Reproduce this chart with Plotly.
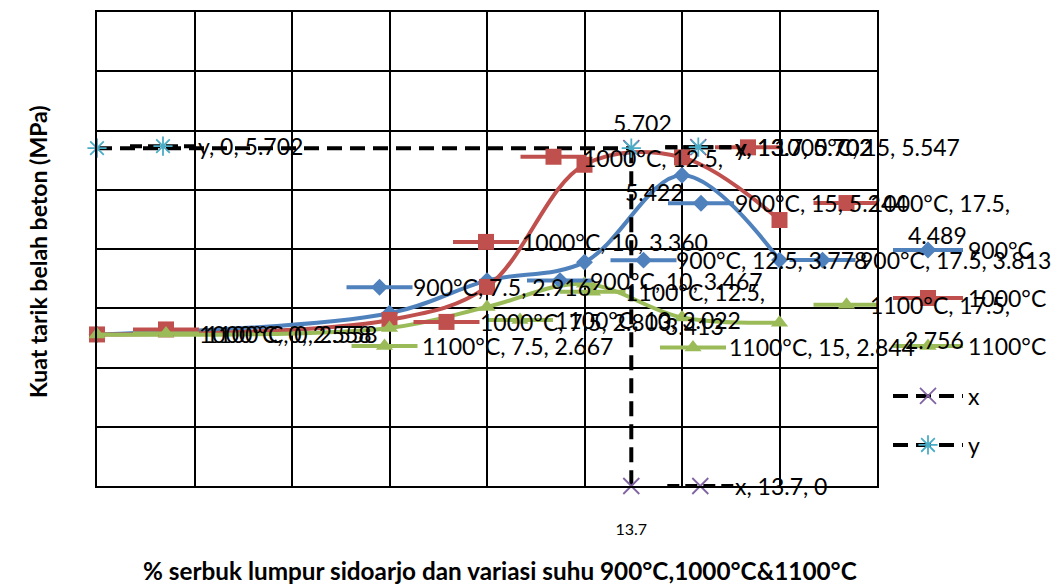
import plotly.graph_objects as go

# ---------------- data ----------------
pct = [0, 7.5, 10, 12.5, 15, 17.5]
s900 = [2.558, 2.916, 3.467, 3.778, 5.244, 3.813]
s1000 = [2.558, 2.803, 3.360, 5.422, 5.547, 4.489]
s1100 = [2.558, 2.667, 3.022, 3.413, 2.844, 2.756]
series_names = ["900°C", "1000°C", "1100°C"]
x_line_x = [13.7, 13.7]
x_line_y = [5.702, 0]
y_line_x = [0, 13.7]
y_line_y = [5.702, 5.702]
xtick_vals = [13.7]
xtick_text = ["13.7"]

# ---------------- styles ----------------
FONT = "Lato"
LABEL_SIZE = 23
W, H = 1052, 586
ML, MR, MT, MB = 97, 175, 12, 100
XR = [0, 20]
YR = [0, 8]
PX = (W - ML - MR) / (XR[1] - XR[0])
PY = (H - MT - MB) / (YR[1] - YR[0])

styles = {
    "900": dict(color="#4F81BD", symbol="diamond", size=13, dash="solid", lw=4),
    "1000": dict(color="#C0504D", symbol="square", size=16, dash="solid", lw=4),
    "1100": dict(color="#9BBB59", symbol="triangle-up", size=15, dash="solid", lw=4),
    "x": dict(color="#8064A2", symbol="x-thin", size=16, dash="dash", lw=4, linecolor="black"),
    "y": dict(color="#4BACC6", symbol="asterisk", size=16, dash="dash", lw=4, linecolor="black"),
}
data = {
    "900": (pct, s900, series_names[0]),
    "1000": (pct, s1000, series_names[1]),
    "1100": (pct, s1100, series_names[2]),
    "x": (x_line_x, x_line_y, "x"),
    "y": (y_line_x, y_line_y, "y"),
}


def marker_of(st, size):
    thin = st["symbol"] in ("x-thin", "asterisk")
    return dict(symbol=st["symbol"] + ("-open" if thin else ""), size=size,
                color=st["color"], opacity=1,
                line=dict(color=st["color"], width=1.8 if thin else 0))


fig = go.Figure()
legend_pos = {"900": 250, "1000": 298, "1100": 346, "x": 396, "y": 445}
legend_ids = ["legend", "legend2", "legend3", "legend4", "legend5"]
for k, lg in zip(["900", "1000", "1100", "x", "y"], legend_ids):
    xs, ys, nm = data[k]
    st = styles[k]
    fig.add_trace(go.Scatter(
        x=xs, y=ys, name=nm, mode="lines+markers", legend=lg,
        line=dict(color=st.get("linecolor", st["color"]), width=st["lw"],
                  dash="solid" if st["dash"] == "solid" else "15px,8px",
                  shape="spline" if k in ("900", "1000", "1100") else "linear"),
        marker=marker_of(st, st["size"]),
        cliponaxis=False, hoverinfo="skip",
    ))

# ---------------- data labels (legend key + text) ----------------
# (series, index, key_dx, key_dy, text_dx, text_dy, anchor, text)   offsets in pixels
labels = [
    ("1000", 0, 36, -5, 100, 0, "left", "1000°C, 0, 2.558"),
    ("1100", 0, 36, -1, 106, 0, "left", "1100°C, 0, 2.558"),
    ("900", 1, -43, -26, 21, -26, "left", "900°C, 7.5, 2.916"),
    ("900", 2, 40, 0, 101, 0, "left", "900°C, 10, 3.467"),
    ("900", 3, 26, -2, 89, -2, "left", "900°C, 12.5, 3.778"),
    ("900", 4, -14, 28, 51, 28, "left", "900°C, 15, 5.244"),
    ("900", 5, 10, 0, 78, 0, "left", "900°C, 17.5, 3.813"),
    ("1000", 1, 24, 2, 88, 2, "left", "1000°C, 7.5, 2.803"),
    ("1000", 2, -34, -45, 33, -45, "left", "1000°C, 10, 3.360"),
    ("1000", 3, -64, -8, 68, -7, "center", "1000°C, 12.5,"),
    ("1000", 3, None, 0, 70, 27, "center", "5.422"),
    ("1000", 4, 33, -10, 90, -10, "left", "1000°C, 15, 5.547"),
    ("1000", 5, 34, -17, 160, -17, "center", "1000°C, 17.5,"),
    ("1000", 5, None, 0, 158, 15, "center", "4.489"),
    ("1100", 1, -38, 18, 30, 18, "left", "1100°C, 7.5, 2.667"),
    ("1100", 2, 0, 13, 66, 13, "left", "1100°C, 10, 3.022"),
    ("1100", 3, -25, 8, 110, 8, "center", "1100°C, 12.5,"),
    ("1100", 3, None, 0, 110, 42, "center", "3.413"),
    ("1100", 4, -22, 30, 45, 30, "left", "1100°C, 15, 2.844"),
    ("1100", 5, 34, -18, 160, -18, "center", "1100°C, 17.5,"),
    ("1100", 5, None, 0, 155, 17, "center", "2.756"),
    ("y", 0, 33, -2, 99, -2, "left", "y, 0, 5.702"),
    ("x", 0, 34, -1, 102, -1, "left", "x, 13.7, 5.702"),
    ("y", 1, 34, -1, 102, -1, "left", "y, 13.7, 5.702"),
    ("y", 1, None, 0, 11, -25, "center", "5.702"),
    ("x", 1, 36, 0, 102, 0, "left", "x, 13.7, 0"),
]
KEYW = 66
annotations = []
for k, i, kdx, kdy, tdx, tdy, anc, txt in labels:
    xs, ys, _ = data[k]
    x0, y0 = xs[i], ys[i]
    st = styles[k]
    if kdx is not None:
        kx = [x0 + (kdx + f * KEYW) / PX for f in (0, 0.5, 1)]
        ky = [y0 - kdy / PY] * 3
        fig.add_trace(go.Scatter(
            x=kx, y=ky, mode="lines+markers", showlegend=False, hoverinfo="skip",
            line=dict(color=st.get("linecolor", st["color"]), width=st["lw"],
                      dash="solid" if st["dash"] == "solid" else "12px,6px"),
            marker=marker_of(st, [0, st["size"], 0]),
            cliponaxis=False,
        ))
    annotations.append(dict(
        x=x0, y=y0, xref="x", yref="y", xshift=tdx, yshift=-tdy,
        xanchor=anc, yanchor="middle", text=txt, showarrow=False,
        font=dict(family=FONT, size=LABEL_SIZE, color="black"),
    ))

# axis titles
annotations.append(dict(x=(500 - ML) / (W - ML - MR), y=(H - MB - 570) / (H - MT - MB), xref="paper", yref="paper",
                        text="<b>% serbuk lumpur sidoarjo dan variasi suhu 900°C,1000°C&1100°C</b>",
                        showarrow=False, xanchor="center", yanchor="middle",
                        font=dict(family=FONT, size=24.3, color="black")))
annotations.append(dict(x=(38 - ML) / (W - ML - MR), y=(H - MB - 252) / (H - MT - MB), xref="paper", yref="paper",
                        text="<b>Kuat tarik belah beton (MPa)</b>", textangle=-90,
                        showarrow=False, xanchor="center", yanchor="middle",
                        font=dict(family=FONT, size=23, color="black")))

layout_legends = {}
for lg, k in zip(legend_ids, ["900", "1000", "1100", "x", "y"]):
    layout_legends[lg] = dict(
        x=(888 - ML) / (W - ML - MR), xanchor="left",
        y=(H - MB - legend_pos[k]) / (H - MT - MB), yanchor="middle",
        font=dict(family=FONT, size=LABEL_SIZE, color="black"),
        bgcolor="rgba(0,0,0,0)", borderwidth=0, itemwidth=70,
    )

fig.update_layout(
    width=W, height=H, margin=dict(l=ML, r=MR, t=MT, b=MB, autoexpand=False),
    paper_bgcolor="white", plot_bgcolor="white",
    showlegend=True, annotations=annotations,
    xaxis=dict(range=XR, tickvals=xtick_vals, ticktext=xtick_text, showgrid=False,
               showline=True, mirror=True, linecolor="black", linewidth=1.5,
               ticks="", zeroline=False, ticklabelstandoff=28,
               tickfont=dict(family=FONT, size=16, color="black"),
               minor=dict(dtick=2.5, tick0=0, showgrid=True, gridcolor="black", gridwidth=1.5)),
    yaxis=dict(range=YR, dtick=1, showgrid=True, gridcolor="black", gridwidth=1.5,
               showticklabels=False, showline=True, mirror=True, linecolor="black",
               linewidth=1.5, zeroline=False, ticks=""),
    **layout_legends,
)

fig.write_html("out.html", config={"displayModeBar": False},
               post_script="document.body.style.margin='0';document.body.style.overflow='hidden';")
